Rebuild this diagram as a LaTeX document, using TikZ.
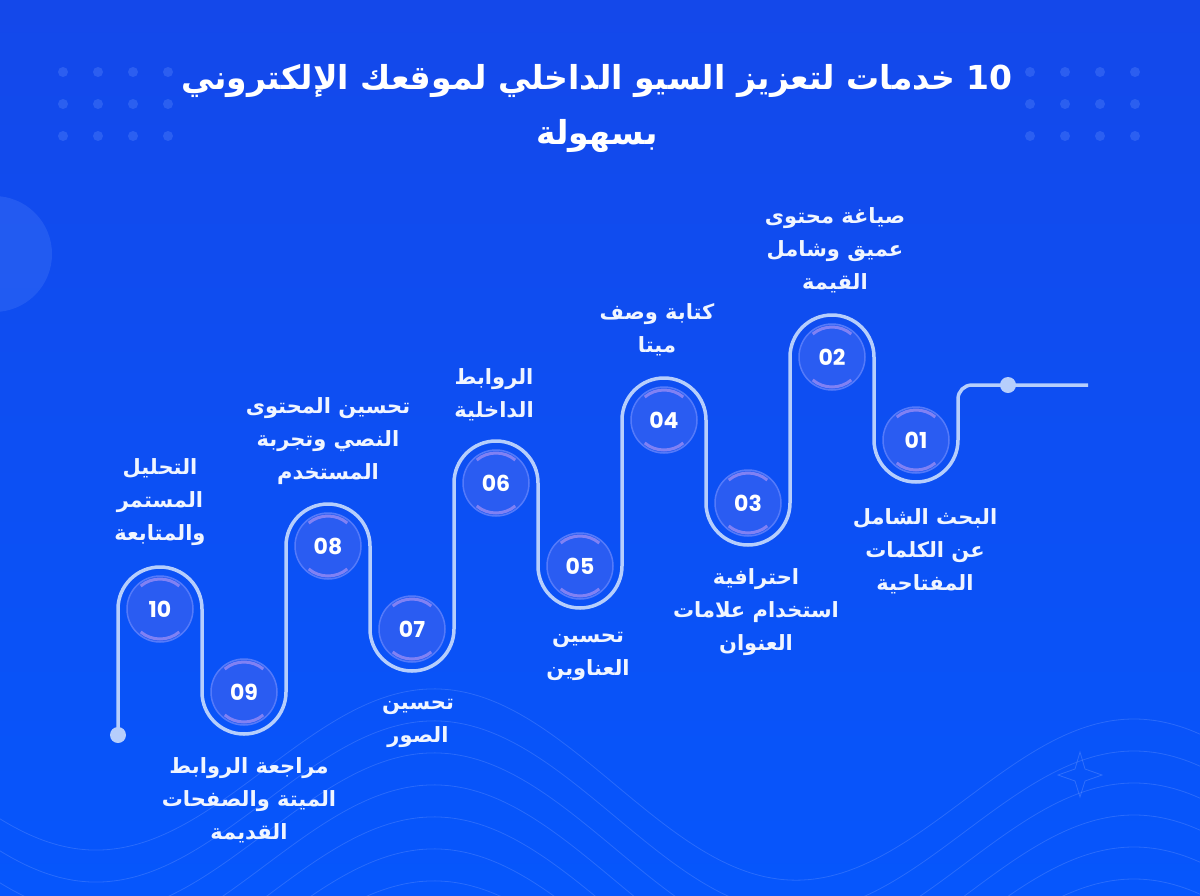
\documentclass[tikz,border=0pt]{standalone}
\usepackage{fontspec}
\usetikzlibrary{positioning,calc}
\TeXXeTstate=1
\newfontfamily\arabicfont[Script=Arabic]{DejaVu Sans}
\newfontfamily\numfont{Poppins}
\newcommand{\artxt}[1]{\beginR #1\endR}

\definecolor{bgtop}{RGB}{20,72,234}
\definecolor{bgbot}{RGB}{6,86,252}
\definecolor{trailc}{RGB}{182,206,252}
\definecolor{badgefill}{RGB}{42,92,242}
\definecolor{badgerim}{RGB}{84,122,250}
\definecolor{lavrim}{RGB}{165,145,245}
\definecolor{decoc}{RGB}{120,160,255}
\definecolor{labelc}{RGB}{240,245,255}

\tikzset{
  badge/.style={circle, minimum size=66pt, inner sep=0pt, fill=badgefill, draw=badgerim,
    line width=1.5pt, text=white, font=\numfont\bfseries\fontsize{22}{22}\selectfont,
    path picture={
      \draw[lavrim, line width=3pt, opacity=.7] ($(path picture bounding box.center)+(50:30pt)$) arc[start angle=50, end angle=130, radius=30pt];
      \draw[lavrim, line width=3pt, opacity=.7] ($(path picture bounding box.center)+(230:30pt)$) arc[start angle=230, end angle=310, radius=30pt];}},
  lbl/.style={align=center, inner sep=0pt, text=labelc, font=\arabicfont\bfseries\fontsize{21}{33}\selectfont},
  trail/.style={draw=trailc, line width=3.5pt},
  enddot/.style={circle, fill=trailc, minimum size=16pt, inner sep=0pt},
}

\begin{document}
\begin{tikzpicture}[x=1pt, y=-1pt,
  head/.style={align=center, inner sep=0pt, text=white, font=\arabicfont\bfseries\fontsize{33}{55}\selectfont}]
\shade[top color=bgtop, bottom color=bgbot] (0,0) rectangle (1200,895);
\useasboundingbox (0,0) rectangle (1200,895);

% background decoration
\foreach \i in {0,...,3}
  \foreach \j in {0,1,2} {
    \fill[decoc, opacity=.25] (63+35*\i, 72+32*\j) circle[radius=5pt];
    \fill[decoc, opacity=.25] (1030+35*\i, 72+32*\j) circle[radius=5pt];
  }
\fill[decoc, opacity=.18] (-6,254) circle[radius=58pt];
\foreach \k in {0,...,6}
  \draw[decoc, opacity=.3, line width=.8pt] plot[domain=-20:1220, samples=80, smooth]
    (\x, {777+32*\k+0.043*(\x-440)-88*cos(deg(2*pi*(\x-440)/700))});
\draw[decoc, opacity=.35, line width=.8pt] (1080,752) -- (1085,769) -- (1102,775) -- (1085,781)
  -- (1080,797) -- (1075,781) -- (1058,775) -- (1075,769) -- cycle;

% title
\node[head] (title) at (597,108) {\artxt{\beginL 10\endL{} خدمات لتعزيز السيو الداخلي لموقعك الإلكتروني}\\\artxt{بسهولة}};

% Define nodes
\node[badge] (c1)  at (916,440) {01};
\node[badge] (c2)  at (832,357) {02};
\node[badge] (c3)  at (748,503) {03};
\node[badge] (c4)  at (664,420) {04};
\node[badge] (c5)  at (580,566) {05};
\node[badge] (c6)  at (496,483) {06};
\node[badge] (c7)  at (412,629) {07};
\node[badge] (c8)  at (328,546) {08};
\node[badge] (c9)  at (244,692) {09};
\node[badge] (c10) at (160,609) {10};

\coordinate (tailR) at (1088,385);
\coordinate (dotR)  at (1008,385);
\coordinate (dotL)  at ($(c10)+(-42,126)$);

% labels
\node[lbl, below=35pt of c1, xshift=9pt]  (t1)  {\artxt{البحث الشامل}\\\artxt{عن الكلمات}\\\artxt{المفتاحية}};
\node[lbl, above=30pt of c2, xshift=3pt]  (t2)  {\artxt{صياغة محتوى}\\\artxt{عميق وشامل}\\\artxt{القيمة}};
\node[lbl, below=32pt of c3, xshift=8pt]  (t3)  {\artxt{احترافية}\\\artxt{استخدام علامات}\\\artxt{العنوان}};
\node[lbl, above=30pt of c4, xshift=-7pt] (t4)  {\artxt{كتابة وصف}\\\artxt{ميتا}};
\node[lbl, below=32pt of c5, xshift=8pt]  (t5)  {\artxt{تحسين}\\\artxt{العناوين}};
\node[lbl, above=28pt of c6, xshift=-2pt] (t6)  {\artxt{الروابط}\\\artxt{الداخلية}};
\node[lbl, below=36pt of c7, xshift=6pt]  (t7)  {\artxt{تحسين}\\\artxt{الصور}};
\node[lbl, above=27pt of c8]              (t8)  {\artxt{تحسين المحتوى}\\\artxt{النصي وتجربة}\\\artxt{المستخدم}};
\node[lbl, below=32pt of c9, xshift=5pt]  (t9)  {\artxt{مراجعة الروابط}\\\artxt{الميتة والصفحات}\\\artxt{القديمة}};
\node[lbl, above=29pt of c10]             (t10) {\artxt{التحليل}\\\artxt{المستمر}\\\artxt{والمتابعة}};

% Edges
\draw[trail] (tailR) -- (dotR) [rounded corners=14pt] -- ($(c1)+(42,-55)$) -- ($(c1)+(42,0)$) [sharp corners]
  \foreach \i/\e in {1/-180,2/180,3/-180,4/180,5/-180,6/180,7/-180,8/180,9/-180,10/180} {
    -- ($(c\i)+(42,0)$) arc[start angle=0, end angle=\e, radius=42pt] }
  -- (dotL);

\node[enddot] (endR) at (dotR) {};
\node[enddot] (endL) at (dotL) {};
\end{tikzpicture}
\end{document}
